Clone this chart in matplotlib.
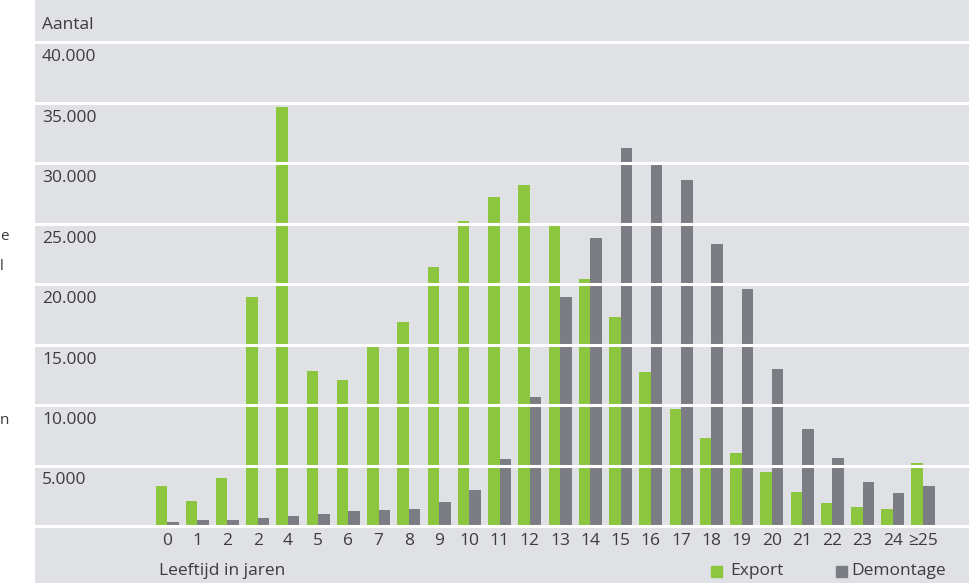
import matplotlib.pyplot as plt
import matplotlib.patches as mpatches

# --- data ---
AGES = ["0", "1", "2", "2", "4", "5", "6", "7", "8", "9", "10", "11", "12",
        "13", "14", "15", "16", "17", "18", "19", "20", "21", "22", "23", "24", "≥25"]
EXPORT = [3300, 2100, 4000, 18900, 34600, 12800, 12100, 14900, 16900, 21400,
          25200, 27200, 28200, 24800, 20400, 17300, 12700, 9700, 7300, 6000,
          4500, 2800, 1900, 1600, 1400, 5200]
DEMONTAGE = [300, 500, 500, 700, 800, 1000, 1200, 1300, 1400, 2000,
             3000, 5500, 10700, 18900, 23800, 31200, 29800, 28600, 23300, 19600,
             13000, 8000, 5600, 3600, 2700, 3300]
Y_TICKS = [0, 5000, 10000, 15000, 20000, 25000, 30000, 35000, 40000]
Y_LABELS = ["", "5.000", "10.000", "15.000", "20.000", "25.000", "30.000",
            "35.000", "40.000"]

GREEN = "#8cc63f"
GREY = "#7c7d84"
BG = "#e0e1e5"
TXT = "#3c3c3c"
FS = 12.5

plt.rcParams['font.family'] = ['Open Sans', 'DejaVu Sans']

W, H = 969, 583
fig = plt.figure(figsize=(W / 100, H / 100), dpi=100)
fig.patch.set_facecolor("white")

# axes fill the grey panel (x 35..969 px)
ax = fig.add_axes([35 / W, 0, (W - 35) / W, 1])
ax.set_facecolor(BG)
for s in ax.spines.values():
    s.set_visible(False)
ax.set_xticks([])
ax.set_yticks([])

# pixel mapping: 0 at y=526, 5000 per 60.5 px, category 0 at x=167, 30.24 px apart
per_px = 5000 / 60.5
ax.set_ylim(-(H - 526) * per_px, 526 * per_px)
step = 30.24
ax.set_xlim(-(167 - 35) / step, (W - 167) / step)

x = list(range(len(AGES)))
bw = 11.5 / step
ax.bar([i - bw / 2 for i in x], EXPORT, width=bw, color=GREEN, zorder=2)
ax.bar([i + bw / 2 for i in x], DEMONTAGE, width=bw, color=GREY, zorder=2)

for v in Y_TICKS:
    ax.axhline(v, color="white", lw=2.2, zorder=3)

# y labels sit just under each gridline, inside the panel
x_lab = ax.get_xlim()[0] + 7 / step
for v, lab in zip(Y_TICKS, Y_LABELS):
    if lab:
        ax.text(x_lab, v - 15 * per_px, lab, ha="left", va="center",
                fontsize=FS, color=TXT, zorder=4)
ax.text(x_lab, 40000 + 17 * per_px, "Aantal", ha="left", va="center",
        fontsize=FS, color=TXT, zorder=4)

# category labels
for i, lab in enumerate(AGES):
    ax.text(i, -15 * per_px, lab, ha="center", va="center",
            fontsize=FS, color=TXT)

fig.text(159 / W, 1 - 571 / H, "Leeftijd in jaren", ha="left", va="center",
         fontsize=FS, color=TXT)

# legend drawn by hand like the original
fig.patches.append(mpatches.Rectangle((711 / W, 1 - 577 / H), 11 / W, 11 / H,
                                      color=GREEN, transform=fig.transFigure))
fig.text(730 / W, 1 - 571 / H, "Export", ha="left", va="center",
         fontsize=FS, color=TXT)
fig.patches.append(mpatches.Rectangle((836 / W, 1 - 577 / H), 11 / W, 11 / H,
                                      color=GREY, transform=fig.transFigure))
fig.text(851 / W, 1 - 571 / H, "Demontage", ha="left", va="center",
         fontsize=FS, color=TXT)

# letters of the neighbouring text column at the far left
for ch, yy in [("e", 237), ("l", 266), ("n", 420)]:
    fig.text(0, 1 - yy / H, ch, ha="left", va="center",
             fontsize=11, color=TXT)

fig.savefig("out.png", dpi=100)
